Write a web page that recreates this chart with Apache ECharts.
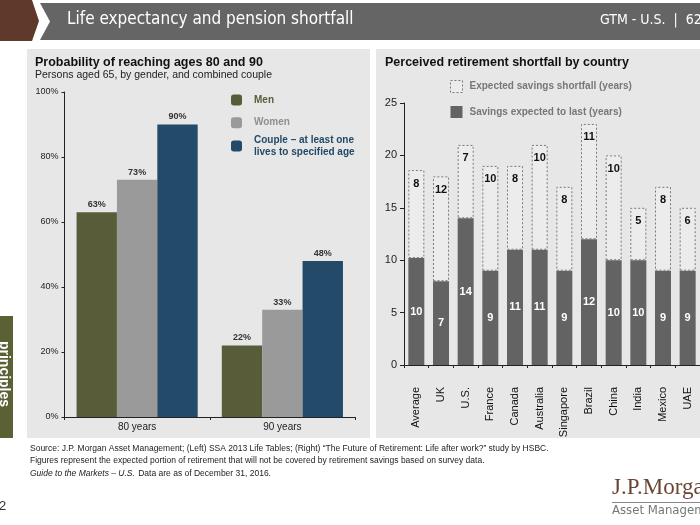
<!DOCTYPE html>
<html>
<head>
<meta charset="utf-8">
<script src="https://cdn.jsdelivr.net/npm/echarts@6/dist/echarts.min.js"></script>
<style>
html,body{margin:0;padding:0;background:#fff;}
#chart{width:700px;height:525px;}
</style>
</head>
<body>
<div id="chart"></div>
<script>
// ---- Left chart data ----
const ageGroups = ['80 years', '90 years'];
const menPct = [63, 22];
const womenPct = [73, 33];
const couplePct = [90, 48];
const leftSeriesNames = ['Men', 'Women', 'Couple – at least one\nlives to specified age'];

// ---- Right chart data ----
const countries = ['Average', 'UK', 'U.S.', 'France', 'Canada', 'Australia', 'Singapore', 'Brazil', 'China', 'India', 'Mexico', 'UAE'];
const savingsYears = [10.2, 8, 14, 9, 11, 11, 9, 12, 10, 10, 9, 9];
const shortfallYears = [8.4, 10, 7, 10, 8, 10, 8, 11, 10, 5, 8, 6];
const savingsLabels = [10, 7, 14, 9, 11, 11, 9, 12, 10, 10, 9, 9];
const shortfallLabels = [8, 12, 7, 10, 8, 10, 8, 11, 10, 5, 8, 6];
const rightSeriesNames = ['Expected savings shortfall (years)', 'Savings expected to last (years)'];

const FONT = "'Liberation Sans', Arial, Helvetica, sans-serif";
const NARROW = "'Liberation Sans Narrow', 'DejaVu Sans Condensed', sans-serif";
const C_MEN = '#585c38', C_WOMEN = '#9a9a9a', C_COUPLE = '#234a68';
const C_SAVE = '#636363';
const PANEL = '#e7e7e7';

const chart = echarts.init(document.getElementById('chart'), null, {renderer: 'canvas'});

const option = {
  animation: false,
  backgroundColor: '#ffffff',
  textStyle: {fontFamily: FONT},
  graphic: [
    // header
    {type: 'polygon', z: -10, shape: {points: [[0,0],[32,0],[39,21],[32,41],[0,41]]}, style: {fill: '#5f3a2b'}},
    {type: 'polygon', z: -10, shape: {points: [[40,3],[700,3],[700,40],[40,40],[50,21.5]]}, style: {fill: '#656565'}},
    {type: 'text', left: 67, top: 11, style: {text: 'Life expectancy and pension shortfall', fill: '#ffffff', font: '17px ' + NARROW}},
    {type: 'text', left: 600, top: 13, style: {text: 'GTM - U.S.  |  62', fill: '#ffffff', font: '14px ' + NARROW}},
    // panels
    {type: 'rect', z: -10, shape: {x: 27, y: 49, width: 343, height: 389}, style: {fill: PANEL}},
    {type: 'rect', z: -10, shape: {x: 376, y: 49, width: 330, height: 389}, style: {fill: PANEL}},
    // side tab
    {type: 'rect', z: -10, shape: {x: 0, y: 316, width: 13, height: 122}, style: {fill: '#5b6135'}},
    {type: 'text', x: 4, y: 374, rotation: -Math.PI / 2, style: {text: 'principles', fill: '#ffffff', font: 'bold 14px ' + FONT, align: 'center', verticalAlign: 'middle'}},
    // titles
    {type: 'text', left: 35, top: 56, style: {text: 'Probability of reaching ages 80 and 90', fill: '#111', font: 'bold 12.5px ' + FONT}},
    {type: 'text', left: 35, top: 70, style: {text: 'Persons aged 65, by gender, and combined couple', fill: '#222', font: '10.5px ' + FONT}},
    {type: 'text', left: 385, top: 56, style: {text: 'Perceived retirement shortfall by country', fill: '#111', font: 'bold 12.5px ' + FONT}},
    // footer
    {type: 'text', left: 30, top: 444.5, style: {text: 'Source: J.P. Morgan Asset Management; (Left) SSA 2013 Life Tables; (Right) \u201CThe Future of Retirement: Life after work?\u201D study by HSBC.', fill: '#222', font: '8.5px ' + FONT}},
    {type: 'text', left: 30, top: 456, style: {text: 'Figures represent the expected portion of retirement that will not be covered by retirement savings based on survey data.', fill: '#222', font: '8.5px ' + FONT}},
    {type: 'text', left: 30, top: 467.5, style: {rich: {i: {font: 'italic 8.5px ' + FONT, fill: '#222'}, n: {font: '8.5px ' + FONT, fill: '#222'}}, text: '{i|Guide to the Markets – U.S.} {n|Data are as of December 31, 2016.}'}},
    // page number & logo
    {type: 'text', left: -1, top: 500, style: {text: '2', fill: '#333', font: '13px ' + FONT}},
    {type: 'text', left: 612, top: 476, style: {text: 'J.P.Morgan', fill: '#6a4532', font: '23px "Liberation Serif", "DejaVu Serif", serif'}},
    {type: 'rect', shape: {x: 612, y: 502, width: 95, height: 1}, style: {fill: '#888'}},
    {type: 'text', left: 612, top: 504, style: {text: 'Asset Management', fill: '#777', font: '13px ' + NARROW}}
  ],
  legend: [
    {data: [{name: leftSeriesNames[0], textStyle: {color: C_MEN}}], left: 231, top: 94, padding: 0, itemWidth: 11, itemHeight: 11, selectedMode: false,
     textStyle: {fontSize: 10, fontWeight: 'bold', lineHeight: 12, padding: [0,0,0,7], fontFamily: FONT}},
    {data: [{name: leftSeriesNames[1], textStyle: {color: '#8f8f8f'}}], left: 231, top: 116.7, padding: 0, itemWidth: 11, itemHeight: 11, selectedMode: false,
     textStyle: {fontSize: 10, fontWeight: 'bold', lineHeight: 12, padding: [0,0,0,7], fontFamily: FONT}},
    {data: [{name: leftSeriesNames[2], textStyle: {color: C_COUPLE}}], left: 231, top: 134.5, padding: 0, itemWidth: 11, itemHeight: 11, selectedMode: false,
     textStyle: {fontSize: 10, fontWeight: 'bold', lineHeight: 11.6, padding: [0,0,0,7], fontFamily: FONT}},
    {data: [
        {name: rightSeriesNames[0], icon: 'rect', itemStyle: {color: '#ececec', borderColor: '#777', borderWidth: 1, borderType: [2, 2]}},
        {name: rightSeriesNames[1], icon: 'rect', itemStyle: {color: C_SAVE}}
     ],
     orient: 'vertical', left: 450, top: 80, padding: 0, itemWidth: 12, itemHeight: 12, itemGap: 13, selectedMode: false,
     textStyle: {fontSize: 10, fontWeight: 'bold', color: '#777', lineHeight: 12, padding: [0,0,0,2], fontFamily: FONT}}
  ],
  grid: [
    {left: 64.5, right: 345, top: 92, bottom: 108},
    {left: 404, right: -10, top: 103, bottom: 160}
  ],
  xAxis: [
    {type: 'category', gridIndex: 0, data: ageGroups,
     axisLine: {lineStyle: {color: '#222', width: 1}},
     axisTick: {show: true, length: 3, lineStyle: {color: '#222'}},
     axisLabel: {fontSize: 10, color: '#222', margin: 5}},
    {type: 'category', gridIndex: 1, data: countries,
     axisLine: {lineStyle: {color: '#222', width: 1}},
     axisTick: {show: true, length: 3, lineStyle: {color: '#222'}},
     axisLabel: {fontSize: 11, color: '#111', rotate: 90, margin: 22, interval: 0}}
  ],
  yAxis: [
    {type: 'value', gridIndex: 0, min: 0, max: 100, interval: 20,
     axisLine: {show: true, lineStyle: {color: '#222'}},
     axisTick: {show: true, length: 3, lineStyle: {color: '#222'}},
     splitLine: {show: false},
     axisLabel: {fontSize: 9, color: '#222', margin: 6, formatter: '{value}%'}},
    {type: 'value', gridIndex: 1, min: 0, max: 25, interval: 5,
     axisLine: {show: true, lineStyle: {color: '#222'}},
     axisTick: {show: true, length: 4, lineStyle: {color: '#222'}},
     splitLine: {show: false},
     axisLabel: {fontSize: 11, color: '#222', margin: 7}}
  ],
  series: [
    {name: leftSeriesNames[0], type: 'bar', xAxisIndex: 0, yAxisIndex: 0, data: menPct,
     barGap: '0%', barCategoryGap: '16.6%', itemStyle: {color: C_MEN},
     label: {show: true, position: 'top', distance: 3, fontSize: 9, fontWeight: 'bold', color: '#333', formatter: '{c}%'}},
    {name: leftSeriesNames[1], type: 'bar', xAxisIndex: 0, yAxisIndex: 0, data: womenPct,
     barGap: '0%', barCategoryGap: '16.6%', itemStyle: {color: C_WOMEN},
     label: {show: true, position: 'top', distance: 3, fontSize: 9, fontWeight: 'bold', color: '#333', formatter: '{c}%'}},
    {name: leftSeriesNames[2], type: 'bar', xAxisIndex: 0, yAxisIndex: 0, data: couplePct,
     barGap: '0%', barCategoryGap: '16.6%', itemStyle: {color: C_COUPLE},
     label: {show: true, position: 'top', distance: 3, fontSize: 9, fontWeight: 'bold', color: '#333', formatter: '{c}%'}},
    {name: rightSeriesNames[1], type: 'bar', xAxisIndex: 1, yAxisIndex: 1, stack: 'years', data: savingsYears,
     barWidth: 16, itemStyle: {color: C_SAVE},
     label: {show: true, position: 'inside', fontSize: 11, fontWeight: 'bold', color: '#ffffff',
             formatter: p => String(savingsLabels[p.dataIndex])}},
    {name: rightSeriesNames[0], type: 'bar', xAxisIndex: 1, yAxisIndex: 1, stack: 'years', data: shortfallYears,
     barWidth: 16, itemStyle: {color: '#ececec', borderColor: '#7a7a7a', borderWidth: 1, borderType: [2, 2]},
     label: {show: true, position: 'insideTop', distance: 8, fontSize: 11, fontWeight: 'bold', color: '#111',
             formatter: p => String(shortfallLabels[p.dataIndex])}}
  ]
};
chart.setOption(option);
</script>
</body>
</html>
